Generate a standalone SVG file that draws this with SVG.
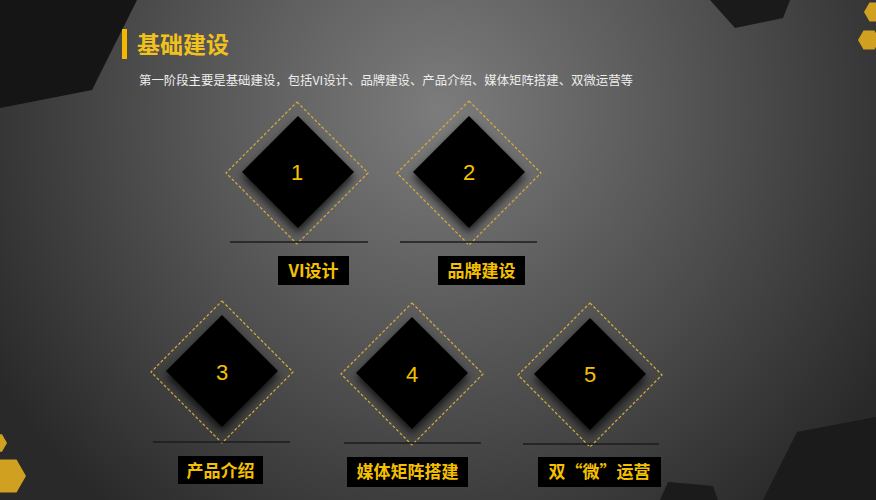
<svg xmlns="http://www.w3.org/2000/svg" width="876" height="500" viewBox="0 0 876 500">
<defs>
<radialGradient id="bg" gradientUnits="userSpaceOnUse" cx="440" cy="110" r="520">
<stop offset="0" stop-color="#7c7c7c"/>
<stop offset="0.45" stop-color="#575757"/>
<stop offset="1" stop-color="#292929"/>
</radialGradient>
<filter id="sh" x="-30%" y="-30%" width="160%" height="170%">
<feDropShadow dx="0" dy="5" stdDeviation="4" flood-color="#000" flood-opacity="0.75"/>
</filter>
<style>
.solid{fill:#000;filter:url(#sh)}
.dash{fill:none;stroke:#d6ae3c;stroke-width:1.2;stroke-dasharray:3 2}
.uline{stroke:#1c1c1c;stroke-width:1.3}
.lbox{fill:#000}
.num{font-family:"Liberation Sans",Arial,sans-serif;font-size:22px;fill:#f5c000;text-anchor:middle}
.lbl{font-family:"Noto Sans CJK SC","Liberation Sans",sans-serif;font-size:17px;font-weight:bold;fill:#f5c000;text-anchor:middle}
.hex{fill:#d0a020}
.dark{fill:#151515}
</style>
</defs>
<rect x="0" y="0" width="876" height="500" fill="url(#bg)"/>
<g id="decor">
<polygon class="dark" points="0,0 137,0 92,90 0,108"/>
<polygon class="dark" points="710,0 735,28 783,18 790,0" style="fill:#1a1a1a"/>
<polygon class="dark" points="797,432 876,417 876,500 763,500" style="fill:#1b1b1b"/>
<polygon class="dark" points="668,482 713,486 718,500 660,500" style="fill:#1b1b1b"/>
<polygon class="hex" points="880,40 874.5,49.5 863.5,49.5 858,40 863.5,30.5 874.5,30.5"/>
<polygon class="hex" points="886,12 880.5,21.5 869.5,21.5 864,12 869.5,2.5 880.5,2.5"/>
<polygon class="hex" points="26,476 16.5,492.5 -2.5,492.5 -12,476 -2.5,459.5 16.5,459.5"/>
<polygon class="hex" points="7,443 2,451.7 -8,451.7 -13,443 -8,434.3 2,434.3"/>
</g>
<g id="title">
<rect x="122" y="29" width="5" height="30" fill="#f5b800"/>
<text x="137" y="53" font-family="Noto Sans CJK SC,Liberation Sans,sans-serif" font-size="23" font-weight="bold" fill="#f2c21c">基础建设</text>
<text x="139" y="85" font-family="Noto Sans CJK SC,Liberation Sans,sans-serif" font-size="12.4" fill="#eeeeee">第一阶段主要是基础建设，包括VI设计、品牌建设、产品介绍、媒体矩阵搭建、双微运营等</text>
</g>
<g id="connectors"></g>
<g id="node1">
<polygon class="dash" points="297,102 368,173 297,244 226,173"/>
<polygon class="solid" points="298,116 354,172 298,228 242,172"/>
<text class="num" x="297" y="180">1</text>
<line class="uline" x1="230" y1="242" x2="368" y2="242"/>
<rect class="lbox" x="278" y="256" width="71" height="29"/>
<text class="lbl" x="313.5" y="277">VI设计</text>
</g>
<g id="node2">
<polygon class="dash" points="469,101 541,173 469,245 397,173"/>
<polygon class="solid" points="469,116 525,172 469,228 413,172"/>
<text class="num" x="469" y="180">2</text>
<line class="uline" x1="400" y1="242" x2="537" y2="242"/>
<rect class="lbox" x="438" y="256" width="87" height="29"/>
<text class="lbl" x="481.5" y="277">品牌建设</text>
</g>
<g id="node3">
<polygon class="dash" points="222,301 293,372 222,443 151,372"/>
<polygon class="solid" points="222,315 278,371 222,427 166,371"/>
<text class="num" x="222" y="380">3</text>
<line class="uline" x1="153" y1="442" x2="290" y2="442"/>
<rect class="lbox" x="178" y="456" width="85" height="28"/>
<text class="lbl" x="220.5" y="476.5">产品介绍</text>
</g>
<g id="node4">
<polygon class="dash" points="412,303 483,374 412,445 341,374"/>
<polygon class="solid" points="412,317 468,373 412,429 356,373"/>
<text class="num" x="412" y="382">4</text>
<line class="uline" x1="344" y1="443" x2="481" y2="443"/>
<rect class="lbox" x="347" y="457" width="121" height="30"/>
<text class="lbl" x="407.5" y="478">媒体矩阵搭建</text>
</g>
<g id="node5">
<polygon class="dash" points="590,303 662,375 590,447 518,375"/>
<polygon class="solid" points="590,318 646,374 590,430 534,374"/>
<text class="num" x="590" y="382">5</text>
<line class="uline" x1="523" y1="444" x2="659" y2="444"/>
<rect class="lbox" x="538" y="457" width="123" height="30"/>
<text class="lbl" x="599.5" y="478">双“微”运营</text>
</g>
</svg>
